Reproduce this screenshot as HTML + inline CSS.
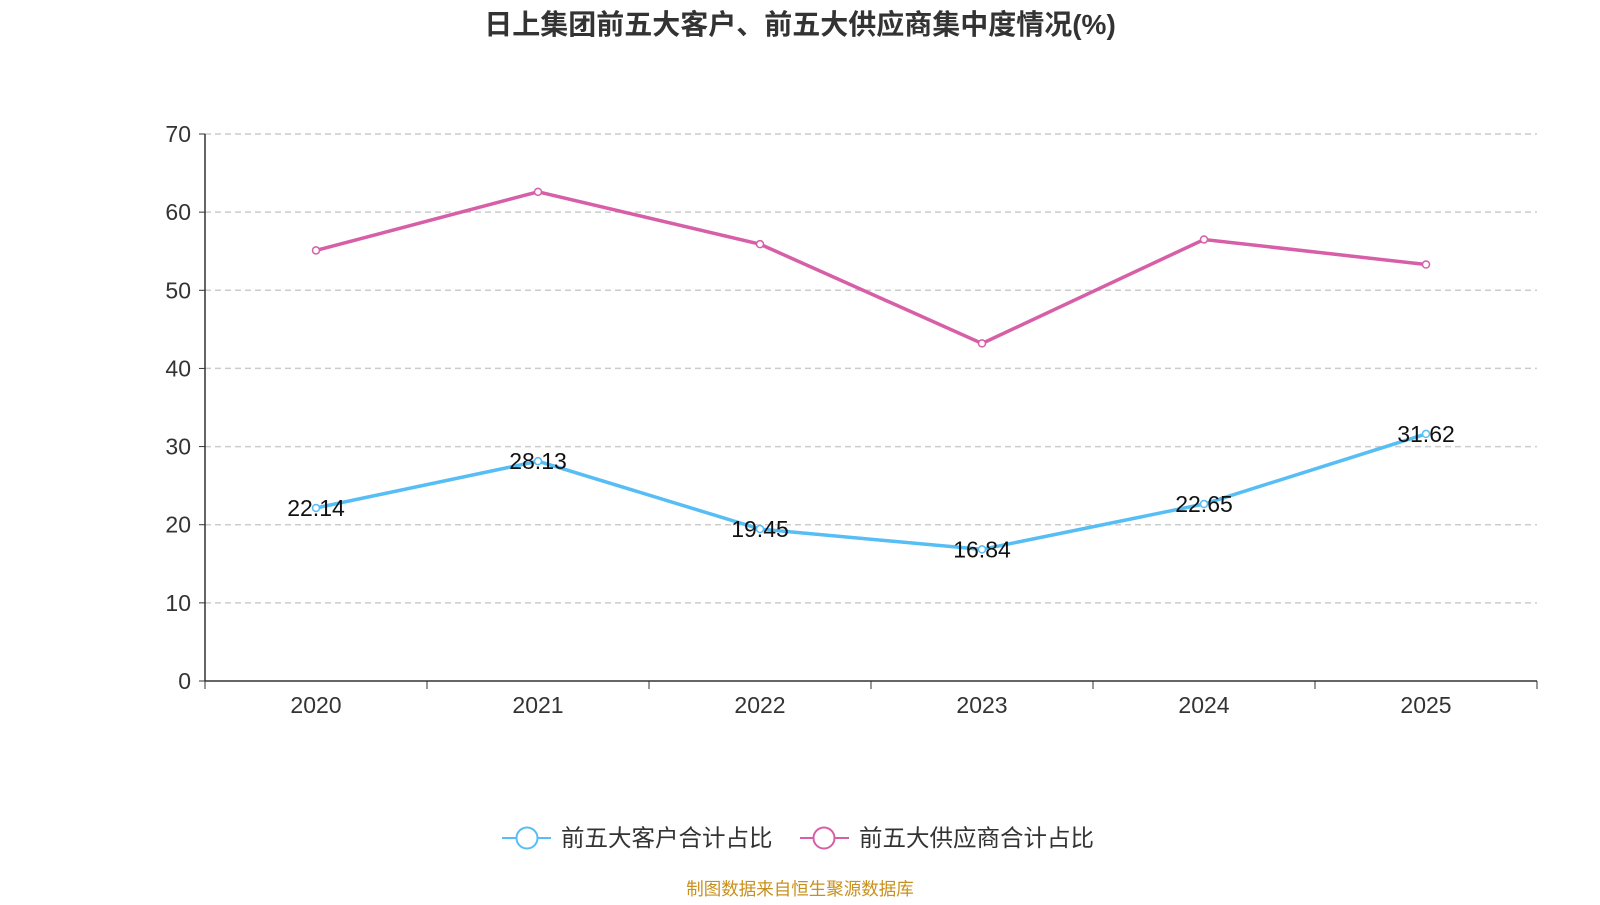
<!DOCTYPE html>
<html><head><meta charset="utf-8"><style>
body{margin:0;background:#fff;}
svg text{font-family:"Liberation Sans","Noto Sans CJK SC",sans-serif;}
</style></head><body>
<svg width="1600" height="900" id="chart">
<text x="800" y="34" text-anchor="middle" font-size="28" font-weight="bold" fill="#333">日上集团前五大客户、前五大供应商集中度情况(%)</text>
<g id="grid"></g><g id="axes"></g><g id="series"></g>
<g>
<line x1="502" y1="838" x2="551" y2="838" stroke="#56bdf5" stroke-width="2"/>
<circle cx="527" cy="838" r="10.5" fill="#fff" stroke="#56bdf5" stroke-width="2"/>
<text x="561" y="846" font-size="23.5" fill="#333">前五大客户合计占比</text>
<line x1="800" y1="838" x2="849" y2="838" stroke="#d65fa8" stroke-width="2"/>
<circle cx="824" cy="838" r="10.5" fill="#fff" stroke="#d65fa8" stroke-width="2"/>
<text x="859" y="846" font-size="23.5" fill="#333">前五大供应商合计占比</text>
</g>
<text x="800" y="895" text-anchor="middle" font-size="17.5" fill="#c8901e">制图数据来自恒生聚源数据库</text>
</svg>
<script>
const categories=["2020","2021","2022","2023","2024","2025"];
const customers=[22.14,28.13,19.45,16.84,22.65,31.62];
const suppliers=[55.1,62.6,55.9,43.2,56.5,53.3];
const yTicks=[0,10,20,30,40,50,60,70];
const NS="http://www.w3.org/2000/svg";
const L=205,R=1537,T=134,B=681,yMax=70;
const bw=(R-L)/categories.length;
const xs=i=>L+bw*(i+0.5);
const ys=v=>B-(v/yMax)*(B-T);
function mk(tag,attrs,parent){const e=document.createElementNS(NS,tag);for(const k in attrs)e.setAttribute(k,attrs[k]);document.getElementById(parent).appendChild(e);return e;}
yTicks.forEach(t=>{
 if(t>0){const g=mk('line',{x1:L,x2:R,y1:ys(t),y2:ys(t),stroke:'#ccc','stroke-dasharray':'6,4','stroke-width':1.5},'grid');
 
 }
 mk('line',{x1:L-6,x2:L,y1:ys(t),y2:ys(t),stroke:'#333'},'axes');
 const tx=mk('text',{x:L-14,y:ys(t)+8,'text-anchor':'end','font-size':23,fill:'#333'},'axes');tx.textContent=t;
 
 
});
mk('line',{x1:L,x2:L,y1:T,y2:B,stroke:'#333','stroke-width':1.5},'axes');
mk('line',{x1:L,x2:R,y1:B,y2:B,stroke:'#333','stroke-width':1.5},'axes');
for(let i=0;i<=categories.length;i++)mk('line',{x1:L+bw*i,x2:L+bw*i,y1:B,y2:B+8,stroke:'#333'},'axes');
categories.forEach((c,i)=>{const t=mk('text',{x:xs(i),y:B+32,'text-anchor':'middle','font-size':23,fill:'#333'},'axes');t.textContent=c;
 
 });
function series(vals,color,name,labels){
 const p=mk('polyline',{points:vals.map((v,i)=>xs(i)+','+ys(v)).join(' '),fill:'none',stroke:color,'stroke-width':3.5},'series');
 
 
 vals.forEach((v,i)=>{const c=mk('circle',{cx:xs(i),cy:ys(v),r:3.5,fill:'#fff',stroke:color,'stroke-width':1.5},'series');
  
  
  if(labels){const t=mk('text',{x:xs(i),y:ys(v)+8,'text-anchor':'middle','font-size':23,fill:'#111'},'series');t.textContent=v.toFixed(2);
  
  }
 });
}
series(suppliers,'#d65fa8','suppliers',false);
series(customers,'#56bdf5','customers',true);
</script>
</body></html>
